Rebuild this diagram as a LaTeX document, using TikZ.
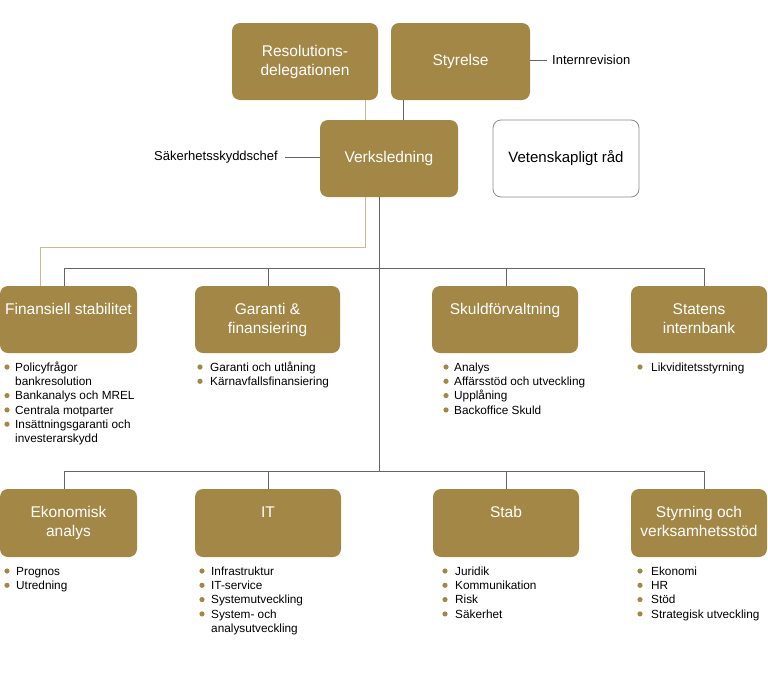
\documentclass[tikz,border=0pt]{standalone}
\usepackage{fontspec}
\setmainfont{Liberation Sans}
\definecolor{gold}{HTML}{A38746}
\definecolor{tanline}{HTML}{CBB994}
\definecolor{conn}{HTML}{666666}
\definecolor{bord}{HTML}{8A8A8A}
\begin{document}
\begin{tikzpicture}[x=1pt,y=-1pt,
  box/.style={rectangle, rounded corners=8pt, fill=gold, draw=none, text=white,
    font=\fontsize{15.5}{19}\selectfont, align=center, inner sep=0pt},
  wbox/.style={rectangle, rounded corners=8pt, fill=white, draw=bord, line width=0.8pt,
    font=\fontsize{15}{19}\selectfont, align=center, inner sep=0pt},
  dtext/.style={text=white, font=\fontsize{15.5}{19}\selectfont, align=center, anchor=north, inner sep=0pt},
  lbl/.style={font=\fontsize{13}{15}\selectfont, inner ysep=0pt},
  blist/.style={font=\fontsize{11.8}{14.3}\selectfont, anchor=north west, inner sep=0pt},
  bul/.style={fill=gold},
  conline/.style={draw=conn, line width=1pt},
  tanl/.style={draw=tanline, line width=1pt}]
\useasboundingbox (0,0) rectangle (768,672);

% top boxes
\node[box, minimum width=146pt, minimum height=77pt] (res) at (305,61.5) {Resolutions-\\delegationen};
\node[box, minimum width=139pt, minimum height=77pt] (sty) at (460.5,61.5) {Styrelse};
\node[box, minimum width=138pt, minimum height=77pt] (vl) at (389,158.5) {Verksledning};
\node[wbox, minimum width=146pt, minimum height=77pt] (vr) at (566,158.5) {Vetenskapligt råd};

\node[lbl, anchor=west, inner xsep=5pt] (ir) at (547,60) {Internrevision};
\node[lbl, anchor=east, inner xsep=7pt] (sc) at (285,157) {Säkerhetsskyddschef};

% department boxes row 1
\node[box, minimum width=137pt, minimum height=67pt] (fs) at (68.5,319.5) {};
\node[box, minimum width=145pt, minimum height=67pt] (ga) at (267.5,319.5) {};
\node[box, minimum width=146pt, minimum height=67pt] (sk) at (505,319.5) {};
\node[box, minimum width=136pt, minimum height=67pt] (si) at (699,319.5) {};
% row 2
\node[box, minimum width=137pt, minimum height=68pt] (ek) at (68.5,523) {};
\node[box, minimum width=146pt, minimum height=68pt] (it) at (268,523) {};
\node[box, minimum width=146pt, minimum height=68pt] (st) at (506,523) {};
\node[box, minimum width=136pt, minimum height=68pt] (sv) at (699,523) {};

\node[dtext] (fst) at ([yshift=-17.5pt]fs.north) {Finansiell stabilitet};
\node[dtext] (gat) at ([yshift=-17.5pt]ga.north) {Garanti \&\\finansiering};
\node[dtext] (skt) at ([yshift=-17.5pt]sk.north) {Skuldförvaltning};
\node[dtext] (sit) at ([yshift=-17.5pt]si.north) {Statens\\internbank};
\node[dtext] (ekt) at ([yshift=-17.5pt]ek.north) {Ekonomisk\\analys};
\node[dtext] (itt) at ([yshift=-17.5pt]it.north) {IT};
\node[dtext] (stt) at ([yshift=-17.5pt]st.north) {Stab};
\node[dtext] (svt) at ([yshift=-17.5pt]sv.north) {Styrning och\\verksamhetsstöd};

% lists
\node[blist] (fsl) at (15,361) {\begin{tabular}{@{}l@{}}
Policyfrågor\\ bankresolution\\ Bankanalys och MREL\\ Centrala motparter\\
Insättningsgaranti och\\ investerarskydd\end{tabular}};
\node[blist] (gal) at (210,361) {\begin{tabular}{@{}l@{}}
Garanti och utlåning\\ Kärnavfallsfinansiering\end{tabular}};
\node[blist] (skl) at (454,361) {\begin{tabular}{@{}l@{}}
Analys\\ Affärsstöd och utveckling\\ Upplåning\\ Backoffice Skuld\end{tabular}};
\node[blist] (sil) at (651,361) {\begin{tabular}{@{}l@{}}
Likviditetsstyrning\end{tabular}};
\node[blist] (ekl) at (16,565) {\begin{tabular}{@{}l@{}}
Prognos\\ Utredning\end{tabular}};
\node[blist] (itl) at (211,565) {\begin{tabular}{@{}l@{}}
Infrastruktur\\ IT-service\\ Systemutveckling\\ System- och\\ analysutveckling\end{tabular}};
\node[blist] (stl) at (455,565) {\begin{tabular}{@{}l@{}}
Juridik\\ Kommunikation\\ Risk\\ Säkerhet\end{tabular}};
\node[blist] (svl) at (651,565) {\begin{tabular}{@{}l@{}}
Ekonomi\\ HR\\ Stöd\\ Strategisk utveckling\end{tabular}};

% bullets
\foreach \n/\dx/\lst in {fsl/8/{0,2,3,4}, gal/10/{0,1}, skl/8/{0,1,2,3}, sil/11/{0},
    ekl/9/{0,1}, itl/9/{0,1,2,3}, stl/10/{0,1,2,3}, svl/11/{0,1,2,3}}{
  \foreach \k in \lst {
    \fill[bul] ([shift={(-\dx,6+14.3*\k)}]\n.north west) circle (2.6pt);
  }
}

% coordinates
\coordinate (tx) at (365,0);
\coordinate (sx) at (403,0);
\coordinate (mx) at (379,0);
\coordinate (tbend) at (365,247);
\coordinate (tleft) at (40,247);
\coordinate (h1) at (0,268);
\coordinate (h2) at (0,471);
\coordinate (d1) at (64,0);
\coordinate (d2) at (268,0);
\coordinate (d3) at (506,0);
\coordinate (d4) at (704,0);

% connectors
\draw[tanl] (res.south -| tx) -- (vl.north -| tx);
\draw[tanl] (vl.south -| tx) -- (tbend) -- (tleft) -- (fs.north -| tleft);
\draw[conline] (sty.south -| sx) -- (vl.north -| sx);
\draw[conline] (sty.east |- ir.west) -- (ir.west);
\draw[conline] (sc.east) -- (sc.east -| vl.west);
\draw[conline] (vl.south -| mx) -- (h2 -| mx);
\draw[conline] (h1 -| d1) -- (h1 -| d4);
\draw[conline] (h2 -| d1) -- (h2 -| d4);
\draw[conline] (h1 -| d1) -- (fs.north -| d1);
\draw[conline] (h1 -| d2) -- (ga.north -| d2);
\draw[conline] (h1 -| d3) -- (sk.north -| d3);
\draw[conline] (h1 -| d4) -- (si.north -| d4);
\draw[conline] (h2 -| d1) -- (ek.north -| d1);
\draw[conline] (h2 -| d2) -- (it.north -| d2);
\draw[conline] (h2 -| d3) -- (st.north -| d3);
\draw[conline] (h2 -| d4) -- (sv.north -| d4);
\end{tikzpicture}
\end{document}
